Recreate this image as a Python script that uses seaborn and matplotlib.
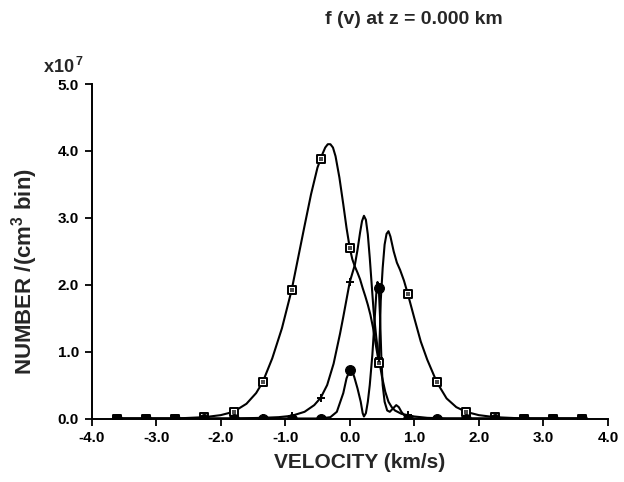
import numpy as np
import pandas as pd
import matplotlib
matplotlib.use("Agg")
import matplotlib.pyplot as plt
import seaborn as sns

# Velocity distributions f(v) in units of 1e7 per (cm^3 bin), velocity in km/s
v_a = [-3.6, -2.7, -2.25, -2.0, -1.8, -1.6, -1.45, -1.35, -1.2, -1.05,
       -0.9, -0.8, -0.7, -0.6, -0.5, -0.45, -0.42, -0.38, -0.34, -0.3,
       -0.26, -0.22, -0.16, -0.1, -0.05, 0.0, 0.04, 0.08, 0.12, 0.16,
       0.2, 0.24, 0.28, 0.32, 0.36, 0.4, 0.43, 0.45, 0.47, 0.48,
       0.51, 0.54, 0.57, 0.6, 0.63, 0.68, 0.73, 0.78, 0.84, 0.9,
       1.0, 1.1, 1.2, 1.35, 1.5, 1.65, 1.8, 2.0, 2.25, 2.7, 3.6]
f_a = [0, 0, 0.02, 0.05, 0.1, 0.22, 0.38, 0.54, 0.9, 1.35,
       1.92, 2.4, 2.88, 3.35, 3.75, 3.88, 3.96, 4.05, 4.1, 4.1,
       4.05, 3.92, 3.6, 3.2, 2.85, 2.55, 2.38, 2.27, 2.18, 2.08,
       1.95, 1.83, 1.7, 1.55, 1.36, 1.12, 0.95, 0.83, 1.4, 1.76,
       2.25, 2.6, 2.76, 2.8, 2.72, 2.5, 2.33, 2.22, 2.06, 1.86,
       1.5, 1.15, 0.88, 0.54, 0.3, 0.17, 0.1, 0.05, 0.02, 0, 0]

v_d = [-3.6, -1.8, -1.35, -1.1, -0.9, -0.7, -0.55, -0.45, -0.35, -0.25,
       -0.15, -0.1, -0.05, 0.0, 0.04, 0.08, 0.12, 0.16, 0.19, 0.22,
       0.25, 0.28, 0.31, 0.34, 0.37, 0.41, 0.45, 0.5, 0.55, 0.6,
       0.65, 0.7, 0.8, 0.9, 1.0, 1.2, 1.5, 3.6]
f_d = [0, 0, 0.01, 0.02, 0.04, 0.1, 0.2, 0.31, 0.5, 0.82,
       1.27, 1.52, 1.78, 2.04, 2.17, 2.3, 2.52, 2.78, 2.95, 3.03,
       2.97, 2.75, 2.4, 2.0, 1.6, 1.22, 0.9, 0.62, 0.4, 0.25,
       0.17, 0.12, 0.07, 0.05, 0.03, 0.01, 0, 0]

v_c = [-3.6, -0.45, -0.3, -0.2, -0.1, -0.05, 0.0, 0.03, 0.07, 0.12,
       0.17, 0.2, 0.22, 0.25, 0.28, 0.31, 0.35, 0.38, 0.41, 0.43,
       0.45, 0.47, 0.49, 0.51, 0.54, 0.58, 0.62, 0.67, 0.72, 0.76,
       0.8, 0.85, 0.9, 3.6]
f_c = [0, 0, 0.02, 0.1, 0.38, 0.6, 0.72, 0.73, 0.62, 0.45,
       0.25, 0.08, 0.03, 0.08, 0.25, 0.5, 0.95, 1.4, 1.85, 2.04,
       1.95, 1.5, 0.9, 0.5, 0.25, 0.12, 0.1, 0.15, 0.2, 0.17,
       0.1, 0.04, 0.0, 0]

# Bin centres carrying symbols, and the value of each distribution there
v_bins = [-3.6, -3.15, -2.7, -2.25, -1.8, -1.35, -0.9, -0.45, 0.0,
          0.45, 0.9, 1.35, 1.8, 2.25, 2.7, 3.15, 3.6]
mark_a = [0, 0, 0, 0.02, 0.1, 0.54, 1.92, 3.88, 2.55,
          0.83, 1.86, 0.54, 0.1, 0.02, 0, 0, 0]
mark_d = [0, 0, 0, 0, 0, 0.01, 0.04, 0.31, 2.04,
          0.9, 0.05, 0, 0, 0, 0, 0, 0]
mark_c = [0, 0, 0, 0, 0, 0, 0, 0, 0.72,
          1.95, 0, 0, 0, 0, 0, 0, 0]

x_ticks = [-4.0, -3.0, -2.0, -1.0, 0.0, 1.0, 2.0, 3.0, 4.0]
y_ticks = [0.0, 1.0, 2.0, 3.0, 4.0, 5.0]

sns.set_theme(style="ticks")
plt.rcParams['font.family'] = ['Liberation Sans', 'DejaVu Sans']
plt.rcParams['font.weight'] = 'bold'
plt.rcParams['axes.unicode_minus'] = False
plt.rcParams['mathtext.fontset'] = 'custom'
plt.rcParams['mathtext.rm'] = 'Liberation Sans:bold'
plt.rcParams['mathtext.bf'] = 'Liberation Sans:bold'
plt.rcParams['mathtext.default'] = 'bf'

fig = plt.figure(figsize=(6.24, 4.82), dpi=100)
W, H = 624.0, 482.0
x0, x1, y0, y1 = 91.5, 608.0, 418.5, 84.0
ax = fig.add_axes([x0 / W, (H - y0) / H, (x1 - x0) / W, (y0 - y1) / H])

for v, f in [(v_a, f_a), (v_d, f_d), (v_c, f_c)]:
    df = pd.DataFrame({"v": v, "f": f})
    sns.lineplot(data=df, x="v", y="f", ax=ax, color="black", linewidth=1.5,
                 estimator=None, sort=False, zorder=2)

# symbols
sns.scatterplot(x=v_bins, y=mark_a, ax=ax, marker="s", s=36, facecolor="white",
                edgecolor="black", linewidth=1.4, zorder=4)
sns.scatterplot(x=v_bins, y=mark_a, ax=ax, marker="s", s=6, color="0.3",
                linewidth=0, zorder=5)
sns.scatterplot(x=v_bins, y=mark_c, ax=ax, marker="o", s=50, color="black",
                edgecolor="black", linewidth=0.8, zorder=6)
sns.scatterplot(x=v_bins, y=mark_d, ax=ax, marker="+", s=40, color="black",
                linewidth=1.4, zorder=7)

ax.set_xlim(-4.0, 4.0)
ax.set_ylim(0.0, 5.0)
ax.set_xticks(x_ticks)
ax.set_yticks(y_ticks)
ax.set_xticklabels([f"{t:.1f}" for t in x_ticks])
ax.set_yticklabels([f"{t:.1f}" for t in y_ticks])
ax.set_xlabel("")
ax.set_ylabel("")
sns.despine(ax=ax)
for s in ("left", "bottom"):
    ax.spines[s].set_color("black")
    ax.spines[s].set_linewidth(1.4)
ax.tick_params(axis="both", direction="out", length=5, width=1.3,
               color="black", labelcolor="black", labelsize=11, pad=4)
for lab in ax.get_xticklabels() + ax.get_yticklabels():
    lab.set_fontweight("bold")

fig.text(414 / W, 1 - 19 / H, "f (v) at z = 0.000 km", ha="center",
         va="center", fontsize=14, fontweight="bold")
fig.text(43 / W, 1 - 67 / H, r"x10$^{\,7}$", ha="left", va="center",
         fontsize=13, fontweight="bold")
fig.text(360 / W, 1 - 463 / H, "VELOCITY (km/s)", ha="center", va="center",
         fontsize=15, fontweight="bold")
fig.text(25 / W, 1 - 272 / H, r"NUMBER /(cm$^{3}$ bin)", ha="center",
         va="center", rotation=90, fontsize=16, fontweight="bold")

fig.savefig("out.png", dpi=100, facecolor="white")
